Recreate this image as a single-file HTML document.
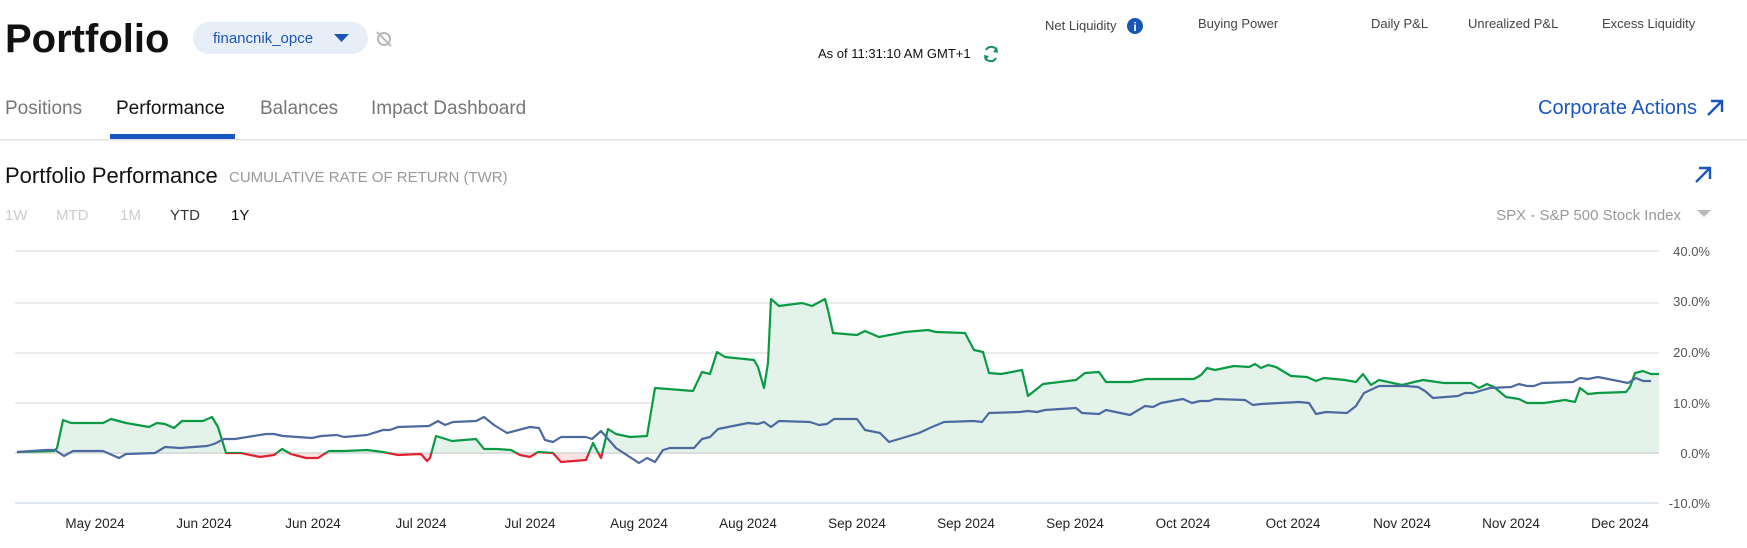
<!DOCTYPE html>
<html><head><meta charset="utf-8"><style>
html,body{margin:0;padding:0;background:#fff;}
svg{display:block;font-family:"Liberation Sans",Arial,sans-serif;}
</style></head><body>
<svg width="1747" height="548" viewBox="0 0 1747 548" xmlns="http://www.w3.org/2000/svg">
<defs>
<clipPath id="above"><rect x="0" y="0" width="1747" height="453"/></clipPath>
<clipPath id="below"><rect x="0" y="453" width="1747" height="95"/></clipPath>
</defs>
<!-- header -->
<text x="5" y="52" font-size="40" font-weight="bold" fill="#111">Portfolio</text>
<rect x="193" y="22" width="175" height="32" rx="16" fill="#e8eef8"/>
<text x="213" y="43" font-size="15" fill="#1a56b8">financnik_opce</text>
<path d="M334 34 L349 34 L341.5 42 Z" fill="#1a56b8"/>
<g stroke="#b8b8b8" stroke-width="2" fill="none"><circle cx="384" cy="39" r="6"/><line x1="377" y1="32" x2="391" y2="46"/></g>
<g font-size="13" fill="#444">
<text x="1045" y="30">Net Liquidity</text>
<text x="1198" y="28">Buying Power</text>
<text x="1371" y="28">Daily P&amp;L</text>
<text x="1468" y="28">Unrealized P&amp;L</text>
<text x="1602" y="28">Excess Liquidity</text>
<text x="818" y="58" fill="#111">As of 11:31:10 AM GMT+1</text>
</g>
<circle cx="1135" cy="26" r="8" fill="#1a56b8"/><text x="1135" y="31" font-size="12" font-weight="bold" fill="#fff" text-anchor="middle">i</text>
<g fill="none" stroke="#139062" stroke-width="2"><path d="M986 50 A6 6 0 0 1 997 51"/><path d="M996 58 A6 6 0 0 1 985 57"/></g>
<path d="M997 47 L998 53 L993 52 Z M985 61 L984 55 L989 56 Z" fill="#139062"/>
<g font-size="19" fill="#777">
<text x="5" y="114">Positions</text>
<text x="116" y="114" fill="#111">Performance</text>
<text x="260" y="114">Balances</text>
<text x="371" y="114">Impact Dashboard</text>
</g>
<rect x="110" y="134" width="125" height="5" fill="#1a56c2"/>
<rect x="0" y="139" width="1747" height="1.5" fill="#e2e2e2"/>
<text x="1538" y="114" font-size="20" fill="#1a56c2">Corporate Actions</text>
<g stroke="#1a56c2" stroke-width="2.4" fill="none"><path d="M1708 115 L1721 102 M1711 101 L1722 101 L1722 112"/>
<path d="M1696 182 L1709 169 M1699 168 L1710 168 L1710 179"/></g>
<text x="5" y="183" font-size="22" fill="#111">Portfolio Performance</text>
<text x="229" y="182" font-size="15" fill="#999">CUMULATIVE RATE OF RETURN (TWR)</text>
<g font-size="15" fill="#ccc">
<text x="5" y="220">1W</text><text x="56" y="220">MTD</text><text x="120" y="220">1M</text>
<text x="170" y="220" fill="#333">YTD</text><text x="231" y="220" fill="#111">1Y</text>
</g>
<text x="1681" y="220" font-size="15" fill="#999" text-anchor="end">SPX - S&amp;P 500 Stock Index</text>
<path d="M1697 210 L1711 210 L1704 217 Z" fill="#bbb"/>
<!-- grid -->
<g stroke="#e4e4e4" stroke-width="1.5">
<line x1="15" y1="251" x2="1659" y2="251"/><line x1="15" y1="303" x2="1659" y2="303"/>
<line x1="15" y1="353" x2="1659" y2="353"/><line x1="15" y1="403" x2="1659" y2="403"/>
<line x1="15" y1="453" x2="1659" y2="453"/></g>
<line x1="15" y1="503" x2="1659" y2="503" stroke="#d6dfee" stroke-width="1.5"/>
<g font-size="13" fill="#555" text-anchor="end">
<text x="1710" y="256">40.0%</text><text x="1710" y="306">30.0%</text><text x="1710" y="357">20.0%</text>
<text x="1710" y="408">10.0%</text><text x="1710" y="458">0.0%</text><text x="1710" y="508">-10.0%</text></g>
<g font-size="13.5" fill="#222" text-anchor="middle">
<text x="95" y="528">May 2024</text><text x="204" y="528">Jun 2024</text><text x="313" y="528">Jun 2024</text>
<text x="421" y="528">Jul 2024</text><text x="530" y="528">Jul 2024</text><text x="639" y="528">Aug 2024</text>
<text x="748" y="528">Aug 2024</text><text x="857" y="528">Sep 2024</text><text x="966" y="528">Sep 2024</text>
<text x="1075" y="528">Sep 2024</text><text x="1183" y="528">Oct 2024</text><text x="1293" y="528">Oct 2024</text>
<text x="1402" y="528">Nov 2024</text><text x="1511" y="528">Nov 2024</text><text x="1620" y="528">Dec 2024</text></g>
<!-- series -->
<g id="s">
<path id="gfill" d="M17 453 L17 452 L54 451 L57 448 L63 420 L71 423 L103 423 L111 419 L126 423 L149 427 L157 423 L165 424 L174 428 L182 421 L203 421 L212 417 L218 427 L226 453 L241 453 L260 457 L274 455 L282 449 L291 454 L306 458 L318 458 L329 451 L344 451 L367 450 L383 452 L398 455 L421 454 L427 461 L430 458 L436 436 L452 441 L476 439 L484 449 L497 449 L511 450 L520 455 L530 457 L538 452 L553 453 L561 462 L586 460 L593 443 L601 458 L608 429 L616 434 L630 437 L647 436 L655 388 L693 391 L702 372 L710 374 L717 352 L725 357 L754 360 L758 367 L764 388 L768 363 L771 299 L779 306 L802 303 L812 306 L825 299 L828 310 L833 333 L857 335 L865 331 L879 337 L905 332 L928 330 L936 332 L965 333 L974 350 L983 352 L989 373 L1001 374 L1022 370 L1028 396 L1043 384 L1076 380 L1085 373 L1099 372 L1106 382 L1131 382 L1146 379 L1194 379 L1201 375 L1207 368 L1215 370 L1234 366 L1249 367 L1255 364 L1261 368 L1268 365 L1276 367 L1291 376 L1307 377 L1316 381 L1324 378 L1345 380 L1356 382 L1363 374 L1371 385 L1379 380 L1402 385 L1414 382 L1423 380 L1444 383 L1471 383 L1479 388 L1487 384 L1494 387 L1506 397 L1519 399 L1527 403 L1544 403 L1565 400 L1575 402 L1580 388 L1588 394 L1598 393 L1626 392 L1630 387 L1635 373 L1643 371 L1651 374 L1659 374 L1659 453 Z"/>
</g>
<use href="#gfill" fill="#e4f3ea" clip-path="url(#above)"/>
<use href="#gfill" fill="#fbe3e5" clip-path="url(#below)"/>
<line x1="15" y1="453" x2="1659" y2="453" stroke="#d4d8d6" stroke-width="1.5"/>
<path id="gline" fill="none" stroke-width="2.2" stroke-linejoin="round" d="M17 452 L54 451 L57 448 L63 420 L71 423 L103 423 L111 419 L126 423 L149 427 L157 423 L165 424 L174 428 L182 421 L203 421 L212 417 L218 427 L226 453 L241 453 L260 457 L274 455 L282 449 L291 454 L306 458 L318 458 L329 451 L344 451 L367 450 L383 452 L398 455 L421 454 L427 461 L430 458 L436 436 L452 441 L476 439 L484 449 L497 449 L511 450 L520 455 L530 457 L538 452 L553 453 L561 462 L586 460 L593 443 L601 458 L608 429 L616 434 L630 437 L647 436 L655 388 L693 391 L702 372 L710 374 L717 352 L725 357 L754 360 L758 367 L764 388 L768 363 L771 299 L779 306 L802 303 L812 306 L825 299 L828 310 L833 333 L857 335 L865 331 L879 337 L905 332 L928 330 L936 332 L965 333 L974 350 L983 352 L989 373 L1001 374 L1022 370 L1028 396 L1043 384 L1076 380 L1085 373 L1099 372 L1106 382 L1131 382 L1146 379 L1194 379 L1201 375 L1207 368 L1215 370 L1234 366 L1249 367 L1255 364 L1261 368 L1268 365 L1276 367 L1291 376 L1307 377 L1316 381 L1324 378 L1345 380 L1356 382 L1363 374 L1371 385 L1379 380 L1402 385 L1414 382 L1423 380 L1444 383 L1471 383 L1479 388 L1487 384 L1494 387 L1506 397 L1519 399 L1527 403 L1544 403 L1565 400 L1575 402 L1580 388 L1588 394 L1598 393 L1626 392 L1630 387 L1635 373 L1643 371 L1651 374 L1659 374"/>
<use href="#gline" stroke="#0a9a43" clip-path="url(#above)"/>
<use href="#gline" stroke="#e0222e" clip-path="url(#below)"/>
<path fill="none" stroke="#4d6aa0" stroke-width="2.2" stroke-linejoin="round" d="M17 452 L46 450 L55 450 L64 456 L73 451 L103 451 L119 458 L126 454 L155 453 L165 447 L180 448 L207 446 L214 444 L224 439 L235 439 L266 434 L274 434 L283 436 L312 438 L321 436 L337 435 L344 437 L367 435 L383 430 L390 430 L398 427 L429 426 L438 421 L445 425 L453 422 L476 421 L484 417 L494 425 L507 433 L530 427 L539 428 L545 440 L553 442 L561 437 L586 437 L592 439 L601 431 L616 448 L639 463 L647 458 L655 462 L663 450 L670 448 L694 448 L702 439 L710 437 L718 429 L748 423 L758 424 L764 422 L771 427 L779 421 L810 422 L819 425 L827 424 L834 419 L857 419 L865 430 L880 433 L889 442 L919 433 L932 427 L944 422 L974 421 L982 422 L989 413 L1020 412 L1028 411 L1037 412 L1045 410 L1076 408 L1082 413 L1099 414 L1106 410 L1130 415 L1145 406 L1153 407 L1161 403 L1183 399 L1192 403 L1200 401 L1209 401 L1215 399 L1245 400 L1253 405 L1261 404 L1299 402 L1309 403 L1316 414 L1326 412 L1347 413 L1356 406 L1364 393 L1379 386 L1406 386 L1418 387 L1425 391 L1433 398 L1458 396 L1465 393 L1473 393 L1483 390 L1490 388 L1511 387 L1519 384 L1527 386 L1534 386 L1542 383 L1573 382 L1580 378 L1588 379 L1598 377 L1628 383 L1636 378 L1643 381 L1651 381"/>
</svg>
</body></html>
